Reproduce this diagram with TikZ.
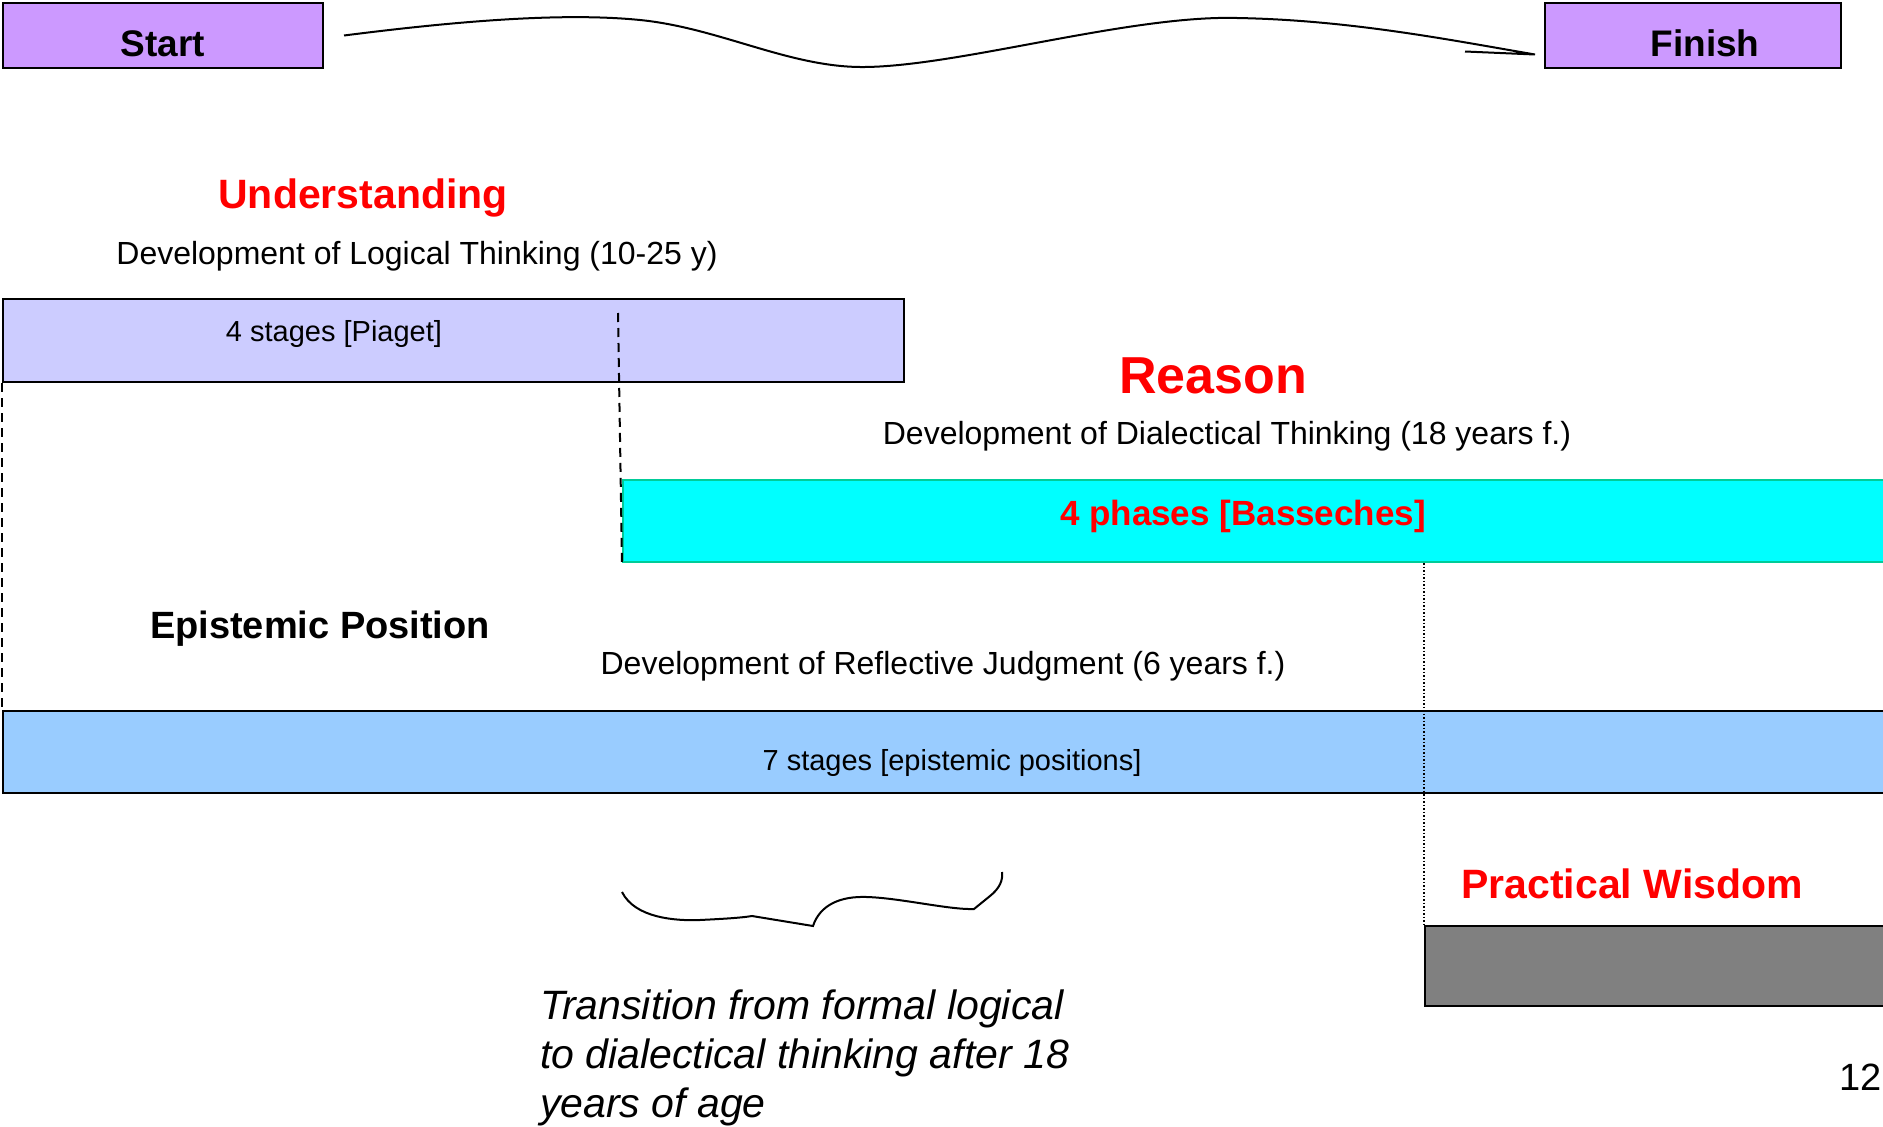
\documentclass[tikz,border=0pt]{standalone}
\usepackage{fontspec}
\setmainfont{Liberation Sans}
\usetikzlibrary{positioning}

\definecolor{lilac}{HTML}{CC99FF}
\definecolor{piagetblue}{HTML}{CCCCFF}
\definecolor{aqua}{HTML}{00FFFF}
\definecolor{tealedge}{HTML}{00CC99}
\definecolor{epistblue}{HTML}{99CCFF}

\begin{document}
\begin{tikzpicture}[x=1pt,y=-1pt,
  bar/.style={draw,line width=2pt,anchor=north west,inner sep=0pt},
  endbox/.style={bar,fill=lilac,minimum height=65pt,text height=41pt,text depth=0pt,
    font=\fontsize{37}{44}\selectfont\bfseries},
  heading/.style={anchor=base,text=red,font=\fontsize{41}{49}\selectfont\bfseries},
  note/.style={anchor=base,font=\fontsize{32}{38}\selectfont},
  inbar/.style={anchor=base,font=\fontsize{29}{35}\selectfont},
  guide/.style={line width=2pt,dash pattern=on 9pt off 6pt}]

  \useasboundingbox (0,0) rectangle (1883,1127);

  \node[endbox,minimum width=320pt] (Start) at (2,2) {Start};
  \node[endbox,minimum width=296pt] (Finish) at (1544,2) {\hspace*{24pt}Finish};
  \coordinate (tip) at ([xshift=-9pt,yshift=-19pt]Finish.west);
  \draw[line width=2pt] ([xshift=20pt]Start.east)
    .. controls (450,22) and (560,12) .. (640,20)
    .. controls (720,28) and (790,68) .. (865,67)
    .. controls (960,66) and (1130,15) .. (1237,18)
    .. controls (1350,20) and (1450,40) .. (tip) -- ++(-70,-3);

  \node[heading] (understanding) at (363,208) {Understanding};
  \node[note] (logical) at (417,264) {Development of Logical Thinking (10-25 y)};
  \node[bar,fill=piagetblue,minimum width=901pt,minimum height=83pt] (Piaget) at (2,298) {};
  \node[inbar] (piagetlbl) at (334,341) {4 stages [Piaget]};

  \node[heading,font=\fontsize{52}{62}\selectfont\bfseries] (reason) at (1213,393) {Reason};
  \node[note] (dialectical) at (1227,444) {Development of Dialectical Thinking (18 years f.)};
  \node[bar,draw=tealedge,fill=aqua,minimum width=1270pt,minimum height=82pt] (Basseches) at (622,479) {};
  \node[inbar,text=red,font=\fontsize{35}{42}\selectfont\bfseries] (basslbl) at (1243,525) {4 phases [Basseches]};

  \node[anchor=base,font=\fontsize{38}{46}\selectfont\bfseries] (epistemic) at (320,638) {Epistemic Position};
  \node[note] (reflective) at (943,674) {Development of Reflective Judgment (6 years f.)};
  \node[bar,fill=epistblue,minimum width=1890pt,minimum height=82pt] (Epist) at (2,710) {};
  \node[inbar] (epistlbl) at (952,770) {7 stages [epistemic positions]};

  \node[heading] (wisdom) at (1632,898) {Practical Wisdom};
  \node[bar,fill=gray,minimum width=470pt,minimum height=80pt] (Wisdom) at (1424,925) {};

  % guide lines between the bars
  \coordinate (d0) at (618,313);
  \draw[guide] (Piaget.south west) -- (Epist.north west);
  \draw[guide] (d0) -- (Basseches.south west);
  \draw[line width=1.5pt,dotted] (Basseches.south -| Wisdom.north west) -- (Wisdom.north west);

  % brace
  \draw[line width=2pt] (622,892) .. controls (635,918) and (675,921) .. (700,920)
    .. controls (720,919) and (740,918) .. (752,916) -- (813,926)
    .. controls (820,905) and (840,896) .. (867,897)
    .. controls (900,898) and (950,910) .. (974,909) -- (990,896)
    .. controls (1000,888) and (1003,880) .. (1002,872);

  \node[anchor=north west,inner sep=0pt,align=left,font=\fontsize{41}{49}\selectfont\itshape]
    (transition) at (540,990) {Transition from formal logical\\to dialectical thinking after 18\\years of age};

  \node[anchor=base east,inner sep=0pt,font=\fontsize{38}{46}\selectfont] (pagenum) at (1882,1090) {12};

\end{tikzpicture}
\end{document}
